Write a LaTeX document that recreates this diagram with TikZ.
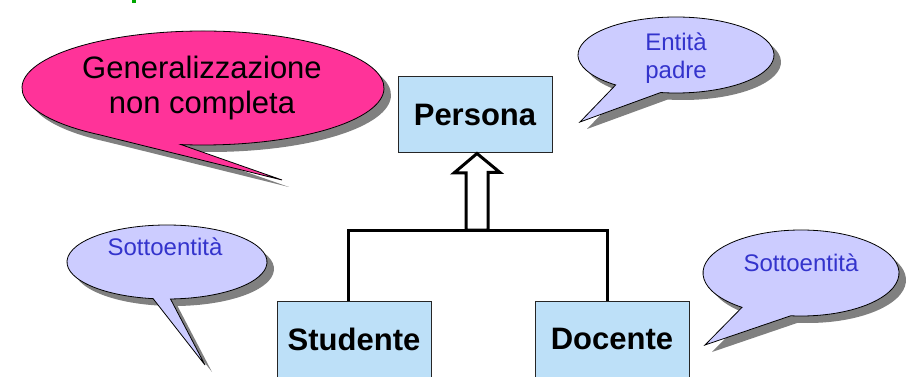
\documentclass[tikz,border=0pt]{standalone}
\usepackage{fontspec}
\setmainfont{Liberation Sans}
\usetikzlibrary{calc,shadows}
\definecolor{boxblue}{RGB}{189,224,248}
\definecolor{rosa}{RGB}{255,51,153}
\definecolor{lilla}{RGB}{204,204,255}
\definecolor{testoblu}{RGB}{51,51,204}
\begin{document}
\begin{tikzpicture}[x=1pt,y=-1pt,line join=miter,
	entita/.style={draw=black!85,line width=1pt,fill=boxblue,minimum width=154pt,minimum height=76pt,inner sep=0pt,font=\fontsize{31}{36}\selectfont\bfseries},
	fumetto/.style={draw=black,line width=0.8pt,drop shadow={shadow xshift=7pt,shadow yshift=-7pt,fill=black!50,opacity=1}},
	nota/.style={align=center,text=testoblu,font=\fontsize{24}{28}\selectfont},
	legame/.style={line width=3pt}]
	\useasboundingbox (0,0) rectangle (911,377);
	% residuo del titolo
	\fill[green!65!black] (132,0) rectangle (136,3);
	% fumetti
	\coordinate (cgen) at (203,88);
	\coordinate (cpadre) at (676,55);
	\coordinate (csx) at (167,262);
	\coordinate (cdx) at (801,273);
	\filldraw[fumetto,fill=rosa] (282,180) -- ($(cgen)+(125:181 and 57)$) arc[start angle=125,end angle=457,x radius=181,y radius=57] -- cycle;
	\filldraw[fumetto,fill=lilla] (580,122) -- ($(cpadre)+(128:98 and 38)$) arc[start angle=128,end angle=459,x radius=98,y radius=38] -- cycle;
	\filldraw[fumetto,fill=lilla] (205,365) -- ($(csx)+(98:100 and 37)$) arc[start angle=98,end angle=448,x radius=100,y radius=37] -- cycle;
	\filldraw[fumetto,fill=lilla] (705,345) -- ($(cdx)+(127:98 and 43)$) arc[start angle=127,end angle=456,x radius=98,y radius=43] -- cycle;
	\node[align=center,font=\fontsize{31}{35}\selectfont] (tgen) at (202,88) {Generalizzazione\\non completa};
	\node[nota] (tpadre) at (676,58) {Entità\\padre};
	\node[nota] (tsx) at (165,247) {Sottoentità};
	\node[nota] (tdx) at (801,263) {Sottoentità};
	% entita
	\node[entita] (persona) at (475,115) {Persona};
	\node[entita] (studente) at (354,339) {Studente};
	\node[entita] (docente) at (612,339) {Docente};
	\coordinate (bar) at (477,230);
	\draw[legame] ([xshift=-6pt]studente.north) |- (bar) -| ([xshift=-5pt]docente.north);
	\filldraw[legame,fill=white] ([xshift=2pt]persona.south) -- ++(23,19) -- ++(-12,0) |- ([xshift=11pt]bar) -- ([xshift=-11pt]bar) -- ++(0,-57) -- ++(-12,0) -- cycle;
\end{tikzpicture}
\end{document}
